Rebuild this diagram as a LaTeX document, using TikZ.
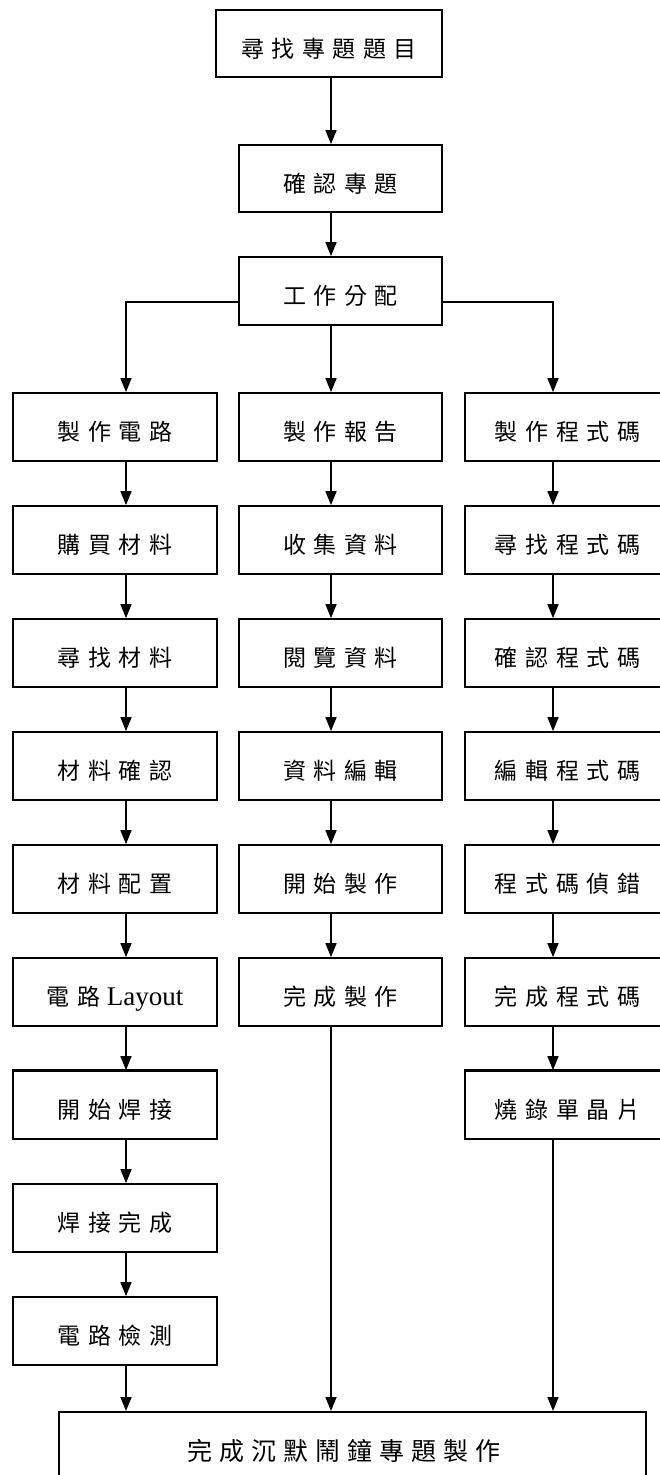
\documentclass[tikz,border=0pt]{standalone}
\usepackage{fontspec}
\setmainfont{Liberation Serif}
\newfontfamily\cjk[LetterSpace=33]{Noto Sans CJK TC}
\newfontfamily\cjkbig[LetterSpace=28]{Noto Sans CJK TC}
\usetikzlibrary{arrows.meta,calc}
\begin{document}
\begin{tikzpicture}[x=1pt,y=-1pt,
  box/.style={draw,line width=1.7pt,fill=white,minimum height=68pt,inner sep=0pt,text height=27pt,text depth=0pt,font=\cjk\fontsize{23}{25}\selectfont},
  boxL/.style={box,minimum width=204pt},
  boxM/.style={box,minimum width=203pt},
  boxR/.style={box,minimum width=205pt},
  arr/.style={line width=1.5pt,-{Triangle[width=11pt,length=14pt]}},
  ln/.style={line width=1.5pt}]
\useasboundingbox (0,0) rectangle (660,1475);
\begin{scope}
\clip (0,0) rectangle (660,1475);
% top chain
\node[box,minimum width=226pt,minimum height=67pt] (t1) at (329,43.5) {尋找專題題目};
\node[boxM,minimum height=67pt] (t2) at (340.5,178.5) {確認專題};
\node[boxM] (t3) at (340.5,291) {工作分配};
\coordinate (cL) at (126,0);
\coordinate (cM) at (331,0);
\coordinate (cR) at (553,0);
\coordinate (br) at (0,302);
% rows
\foreach \n/\t [count=\k from 0] in {L0/製作電路,L1/購買材料,L2/尋找材料,L3/材料確認,L4/材料配置,L5/{電路\rmfamily\fontsize{27}{29}\selectfont\ Layout},L6/開始焊接,L7/焊接完成,L8/電路檢測}
  \node[boxL] (\n) at (115,427+113*\k) {\t};
\foreach \n/\t [count=\k from 0] in {M0/製作報告,M1/收集資料,M2/閱覽資料,M3/資料編輯,M4/開始製作,M5/完成製作}
  \node[boxM] (\n) at (340.5,427+113*\k) {\t};
\foreach \n/\t [count=\k from 0] in {R0/製作程式碼,R1/尋找程式碼,R2/確認程式碼,R3/編輯程式碼,R4/程式碼偵錯,R5/完成程式碼,R6/燒錄單晶片}
  \node[boxR] (\n) at (567.5,427+113*\k) {\t};
\draw[line width=3pt] (L6.north west) -- (L6.north east);
\draw[line width=3pt] (R6.north west) -- (R6.north east);
% final
\node[draw,line width=1.7pt,fill=white,minimum width=587pt,minimum height=90pt,anchor=north] (F) at (352.5,1411) {};
\node[font=\cjkbig\fontsize{25}{27}\selectfont] (Ft) at (344,1451) {完成沉默鬧鐘專題製作};
% connectors
\draw[arr] (t1.south -| cM) -- (t2.north -| cM);
\draw[arr] (t2.south -| cM) -- (t3.north -| cM);
\draw[arr] (t3.south -| cM) -- (M0.north -| cM);
\draw[arr] (t3.west |- br) -| (L0.north -| cL);
\draw[arr] (t3.east |- br) -| (R0.north -| cR);
\foreach \a/\b in {L0/L1,L1/L2,L2/L3,L3/L4,L4/L5,L5/L6,L6/L7,L7/L8}
  \draw[arr] (\a.south -| cL) -- (\b.north -| cL);
\foreach \a/\b in {M0/M1,M1/M2,M2/M3,M3/M4,M4/M5}
  \draw[arr] (\a.south -| cM) -- (\b.north -| cM);
\foreach \a/\b in {R0/R1,R1/R2,R2/R3,R3/R4,R4/R5,R5/R6}
  \draw[arr] (\a.south -| cR) -- (\b.north -| cR);
\draw[arr] (L8.south -| cL) -- (F.north -| cL);
\draw[arr] (M5.south -| cM) -- (F.north -| cM);
\draw[arr] (R6.south -| cR) -- (F.north -| cR);
\end{scope}
\end{tikzpicture}
\end{document}
